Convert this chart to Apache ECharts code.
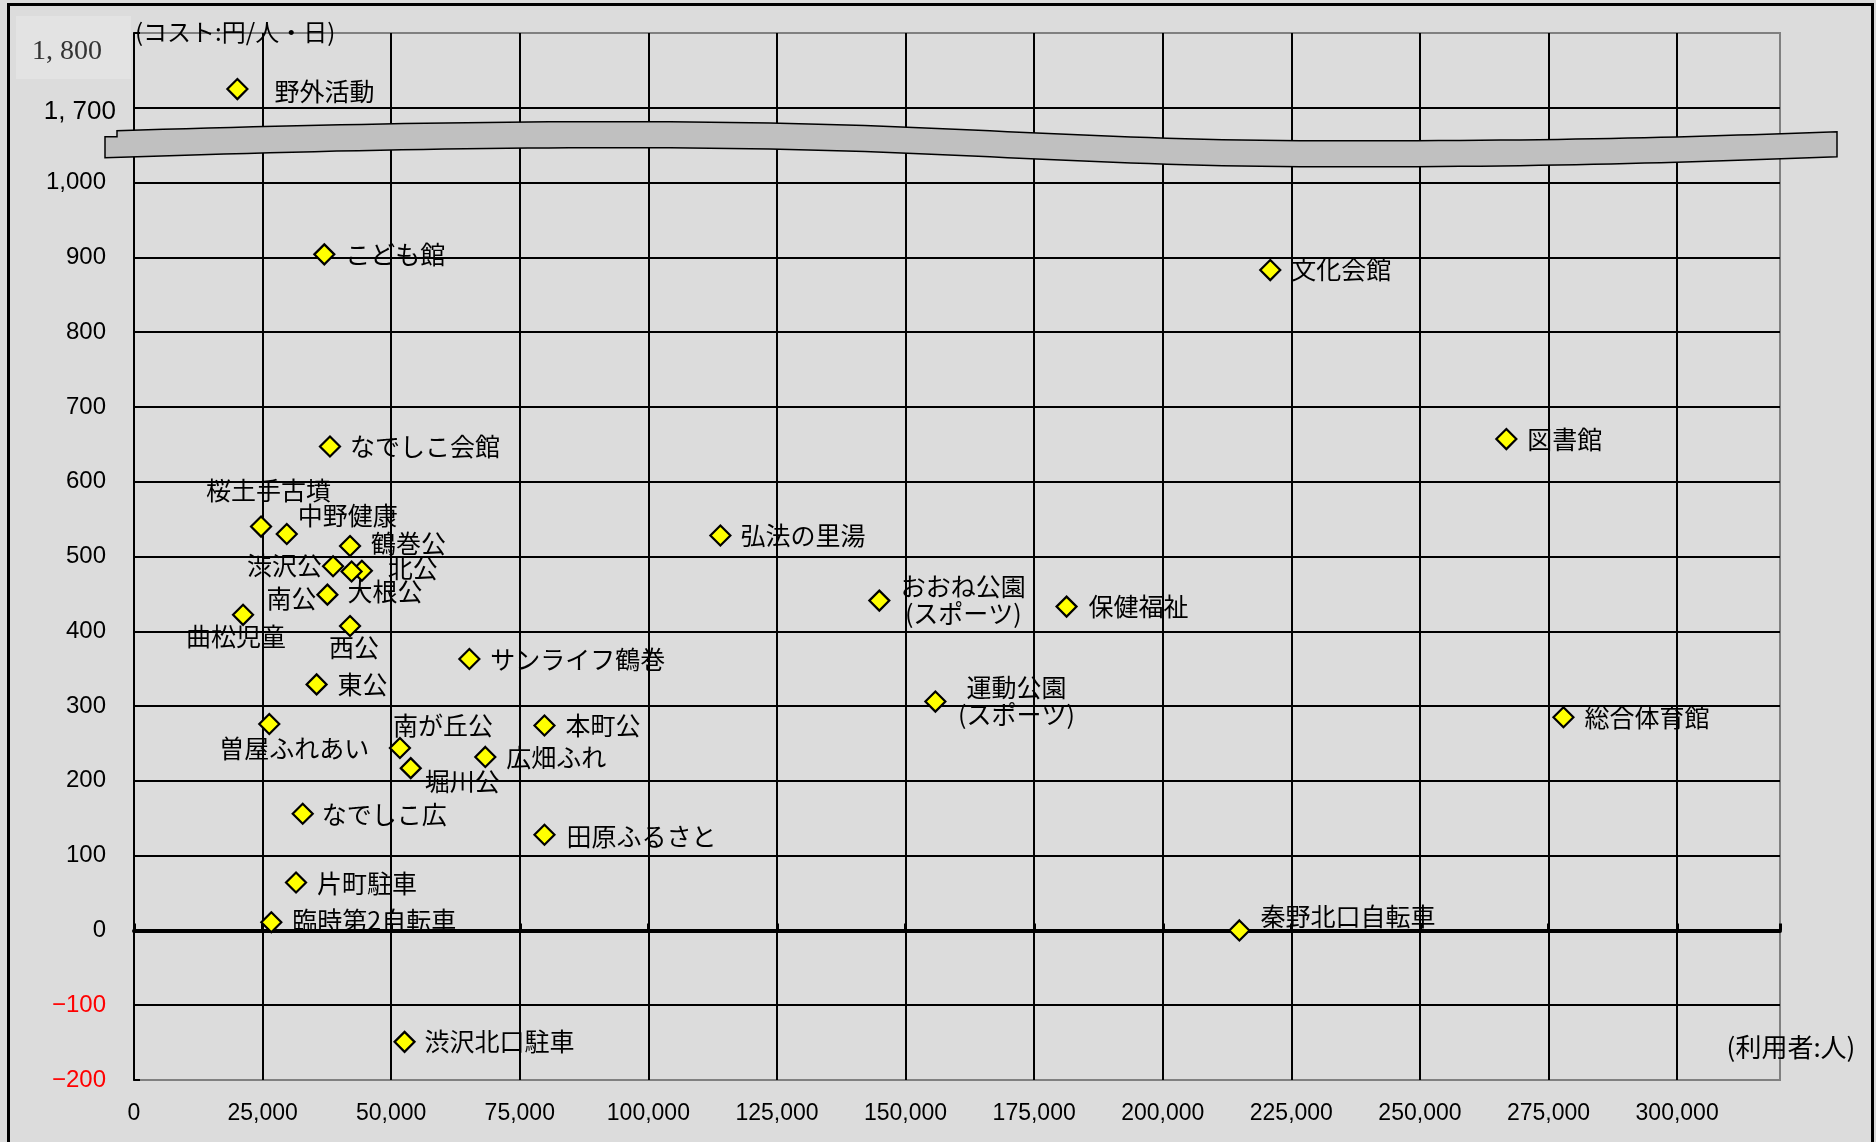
<!DOCTYPE html>
<html>
<head>
<meta charset="utf-8">
<title>施設別 利用者数とコスト</title>
<script src="https://cdn.jsdelivr.net/npm/echarts@6/dist/echarts.min.js"></script>
<style>
  html, body { margin: 0; padding: 0; background: #DCDCDC; }
  #chart { width: 1876px; height: 1142px; }
</style>
</head>
<body>
<div id="chart"></div>
<script>
// ---- data -------------------------------------------------------------
const facilityNames = [
  '野外活動', 'こども館', '文化会館', '図書館', 'なでしこ会館',
  '桜土手古墳', '中野健康', '鶴巻公', '渋沢公', '北公',
  '大根公', '南公', '曲松児童', '西公', 'サンライフ鶴巻',
  '東公', '曽屋ふれあい', '南が丘公', '堀川公', '広畑ふれ',
  '本町公', 'なでしこ広', '田原ふるさと', '片町駐車', '臨時第2自転車',
  '渋沢北口駐車', '秦野北口自転車', '弘法の里湯', 'おおね公園\n(スポーツ)', '保健福祉',
  '運動公園\n(スポーツ)', '総合体育館'
];
// 利用者数（人）
const userCounts = [
  20100, 37000, 220900, 266800, 38100,
  24700, 29700, 42000, 38700, 44300,
  42300, 37600, 21200, 42000, 65200,
  35500, 26300, 51700, 53800, 68300,
  79800, 32800, 79800, 31500, 26700,
  52600, 214900, 114000, 144900, 181300,
  155800, 277900
];
// コスト（円／人・日）
const costPerUserDay = [
  1725, 904, 883, 657, 647,
  540, 530, 514, 487, 481,
  480, 449, 422, 407, 363,
  329, 276, 244, 217, 232,
  274, 156, 128, 64, 11,
  -149, 0, 528, 441, 433,
  306, 285
];

// ---- axes --------------------------------------------------------------
const xMin = 0, xMax = 320000, xStep = 25000, xLastTick = 300000;
const yMin = -200, yMax = 1200, yStep = 100;
// the value axis is cut above 1,000: the range 1,000 – 1,600 is omitted
const breakAt = 1000, breakShift = 600;
const upperTickValues = [1100, 1200];
const upperTickLabels = ['1, 700', '1, 800'];
const yAxisName = '(コスト:円/人・日)';
const xAxisName = '(利用者:人)';

// label placement for each facility: [dx, dy, align]
const labelPlacement = [
  [37, 2, 'left'], [21, 0, 'left'], [21, -1, 'left'], [21, 0, 'left'], [20, 0, 'left'],
  [-55, -36, 'left'], [11, -19, 'left'], [21, -3, 'left'], [-11, -1, 'right'], [26, -2, 'left'],
  [-4, 20, 'left'], [-11, 4, 'right'], [-57, 22, 'left'], [-21, 21, 'left'], [21, 1, 'left'],
  [21, 0, 'left'], [-50, 24, 'left'], [-7, -22, 'left'], [14, 13, 'left'], [21, 1, 'left'],
  [21, 0, 'left'], [19, 1, 'left'], [22, 2, 'left'], [21, 1, 'left'], [21, -2, 'left'],
  [20, 0, 'left'], [21, -14, 'left'], [20, 0, 'left'], [84, -1, 'center'], [22, 0, 'left'],
  [81, -1, 'center'], [21, 0, 'left']
];

const toAxis = v => (v > breakAt ? v - breakShift : v);
const fmt = v => Number(v).toLocaleString('en-US');

const SANS = '"Liberation Sans", Arial, sans-serif';
const JP = '"Noto Sans CJK JP", sans-serif';

const points = facilityNames.map((name, i) => ({
  name: name,
  value: [userCounts[i], toAxis(costPerUserDay[i])],
  label: {
    offset: [labelPlacement[i][0], labelPlacement[i][1]],
    align: labelPlacement[i][2]
  }
}));

const chart = echarts.init(document.getElementById('chart'), null, { renderer: 'canvas' });

chart.setOption({
  backgroundColor: '#DCDCDC',
  animation: false,
  grid: {
    left: 134, right: 96, top: 33, bottom: 62,
    show: true, borderColor: '#808080', borderWidth: 2, backgroundColor: 'transparent'
  },
  xAxis: [
    {
      type: 'value', min: xMin, max: xMax, interval: xStep, position: 'bottom',
      axisLine: { show: false, onZero: false },
      axisTick: { show: false },
      axisLabel: {
        fontSize: 23, fontFamily: SANS, color: '#000', margin: 22,
        formatter: v => (v > xLastTick ? '' : fmt(v))
      },
      splitLine: {
        show: true, showMinLine: false, showMaxLine: false,
        lineStyle: { color: '#000', width: 2 }
      }
    },
    {
      type: 'value', min: xMin, max: xMax, interval: xStep, position: 'bottom',
      axisLine: { show: true, onZero: true, lineStyle: { color: '#000', width: 4 } },
      axisTick: { show: true, inside: true, length: 7, lineStyle: { color: '#000', width: 3 } },
      axisLabel: { show: false },
      splitLine: { show: false }
    }
  ],
  yAxis: {
    type: 'value', min: yMin, max: yMax, interval: yStep,
    axisLine: { show: true, onZero: false, lineStyle: { color: '#000', width: 2 } },
    axisTick: { show: true, inside: true, length: 6, lineStyle: { color: '#000', width: 2 } },
    axisLabel: {
      fontSize: 24, fontFamily: SANS, margin: 28,
      color: v => (Number(v) < 0 ? '#FF0000' : '#000'),
      formatter: v => (v > breakAt ? '' : (v < 0 ? '\u2212' + Math.abs(v) : fmt(v)))
    },
    splitLine: {
      show: true, showMinLine: false, showMaxLine: false,
      lineStyle: { color: '#000', width: 2 }
    }
  },
  series: [{
    type: 'scatter',
    xAxisIndex: 0,
    symbol: 'diamond',
    symbolSize: 20,
    itemStyle: { color: '#FFFF00', borderColor: '#000', borderWidth: 2.2, opacity: 1 },
    label: {
      show: true, position: 'inside', formatter: '{b}',
      fontSize: 25, fontFamily: JP, color: '#000',
      verticalAlign: 'middle', lineHeight: 27
    },
    emphasis: { disabled: true },
    z: 5,
    data: points
  }]
});

// ---- decorations anchored to the axes ----------------------------------
const px = v => chart.convertToPixel({ xAxisIndex: 0 }, v);
const py = v => chart.convertToPixel({ yAxisIndex: 0 }, v);

const yTop = py(upperTickValues[1]);
const y1700 = py(upperTickValues[0]);
const yBand = py((breakAt + upperTickValues[0]) / 2);
const x0 = px(xMin), xEnd = px(xMax);
const d = yBand - 145.5;

// sample a cubic Bézier segment into polygon points
function cubic(p0, p1, p2, p3, n) {
  const out = [];
  for (let k = 1; k <= n; k++) {
    const t = k / n, u = 1 - t;
    const a = u * u * u, b = 3 * u * u * t, c = 3 * u * t * t, e = t * t * t;
    out.push([
      a * p0[0] + b * p1[0] + c * p2[0] + e * p3[0],
      a * p0[1] + b * p1[1] + c * p2[1] + e * p3[1] + d
    ]);
  }
  return out;
}
const sh = p => [p[0], p[1] + d];

// wavy band marking the cut in the value axis
const band = [sh([105, 137]), sh([117, 137]), sh([117, 131])]
  .concat(cubic([117, 131], [350, 124], [550, 120], [750, 123], 30))
  .concat(cubic([750, 123], [950, 126], [1100, 140], [1300, 141], 30))
  .concat(cubic([1300, 141], [1550, 142], [1700, 137], [1837, 132], 30))
  .concat([sh([1837, 157])])
  .concat(cubic([1837, 157], [1700, 162], [1550, 168], [1300, 167], 30))
  .concat(cubic([1300, 167], [1100, 166], [950, 152], [750, 149], 30))
  .concat(cubic([750, 149], [550, 146], [350, 150], [105, 158], 30));

chart.setOption({
  graphic: [
    {
      type: 'rect', z: 200, silent: true,
      shape: { x: 8.5, y: 4.5, width: 1864, height: 1160 },
      style: { fill: 'none', stroke: '#000', lineWidth: 3 }
    },
    {
      type: 'polygon', z: 150, silent: true,
      shape: { points: band },
      style: { fill: '#C0C0C0', stroke: '#000', lineWidth: 1.5 }
    },
    {
      type: 'rect', z: 160, silent: true,
      shape: { x: 16, y: yTop - 17, width: 115, height: 63 },
      style: { fill: '#E3E3E3' }
    },
    {
      type: 'text', z: 170, silent: true,
      x: x0 - 32, y: yTop + 19,
      style: {
        text: upperTickLabels[1], fill: '#333', align: 'right', verticalAlign: 'middle',
        font: '28px "Liberation Serif", "Times New Roman", serif'
      }
    },
    {
      type: 'text', z: 170, silent: true,
      x: x0 - 18, y: y1700 + 4,
      style: {
        text: upperTickLabels[0], fill: '#000', align: 'right', verticalAlign: 'middle',
        font: '26px ' + SANS
      }
    },
    {
      type: 'text', z: 170, silent: true,
      x: x0 + 1, y: yTop - 1,
      style: {
        text: yAxisName, fill: '#000', align: 'left', verticalAlign: 'middle',
        font: '24px ' + JP
      }
    },
    {
      type: 'text', z: 170, silent: true,
      x: xEnd + 11, y: py(yMin) - 33,
      style: {
        text: xAxisName, fill: '#000', align: 'center', verticalAlign: 'middle',
        font: '26px ' + JP
      }
    }
  ]
});
</script>
</body>
</html>
